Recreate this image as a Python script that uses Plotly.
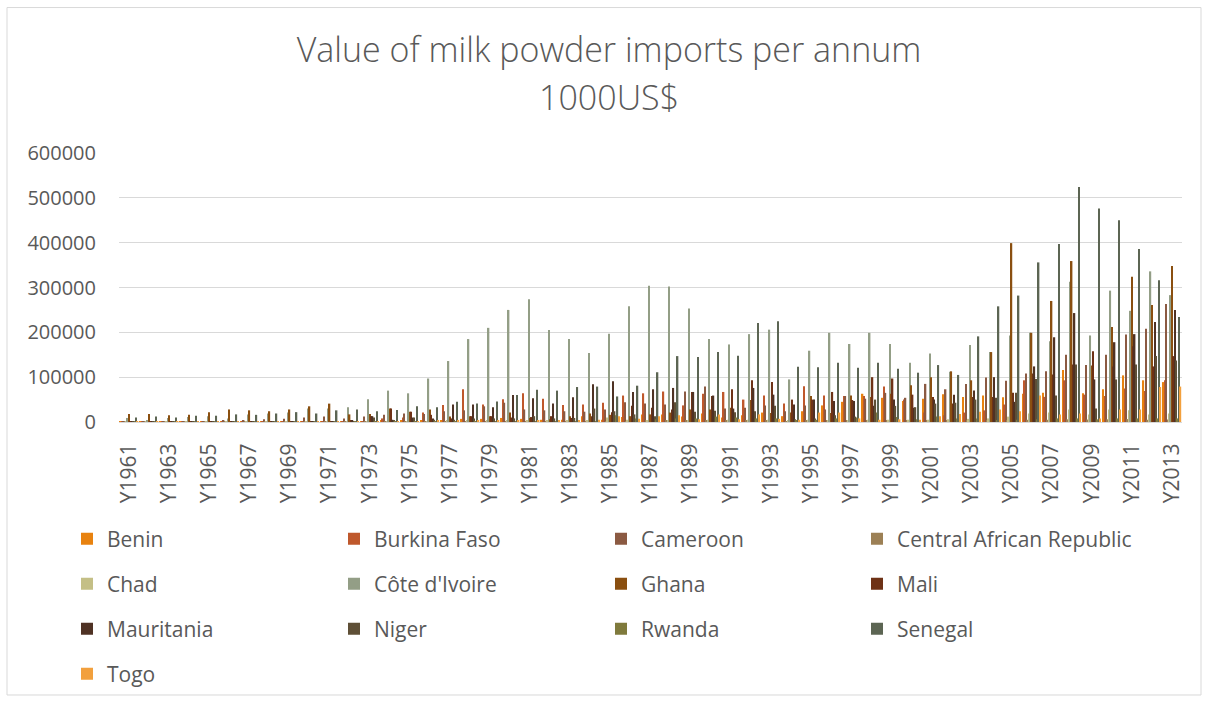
import plotly.graph_objects as go

years = [f"Y{y}" for y in range(1961, 2014)]
tick_labels = [f"Y{y}" for y in range(1961, 2014, 2)]

benin = [300,300,400,400,500,600,700,800,900,1000,
         1200,1500,2000,3000,3000,4000,3000,7000,7000,9000,
         7000,5000,5000,13000,5000,11000,17000,17000,12000,19000,
         10000,15000,21000,13000,24000,37000,45000,63000,54000,47000,
         52000,62000,56000,59000,55000,63000,65000,116000,64000,73000,
         104000,93000,89000]
burkina_faso = [200,300,300,400,500,500,600,700,800,900,
                1000,1500,2000,8000,10000,21000,38000,73000,39000,51000,
                64000,52000,38000,39000,43000,59000,64000,68000,37000,63000,
                67000,50000,59000,41000,80000,59000,58000,58000,79000,50000,
                21000,15000,21000,26000,39000,93000,56000,93000,61000,58000,
                75000,69000,93000]
cameroon = [500,800,1000,1500,2000,2500,4000,6000,7000,10000,
            12000,8000,12000,16000,19000,18000,24000,26000,35000,43000,
            28000,26000,24000,23000,28000,44000,41000,39000,68000,79000,
            30000,32000,37000,24000,37000,28000,58000,52000,65000,54000,
            85000,73000,85000,99000,92000,108000,113000,150000,127000,150000,
            195000,208000,263000]
central_african_republic = [200,200,300,300,300,400,400,500,500,600,
                            600,700,800,900,1000,1000,1200,1200,1500,1500,
                            1500,1500,1800,1800,2000,2000,2500,2500,2500,3000,
                            3000,3000,2500,2000,2500,2500,3000,3000,3500,3500,
                            3500,4000,4000,4500,4500,5000,5000,6000,5500,6000,
                            6500,5000,5500]
chad = [300,300,400,400,500,500,600,600,700,800,
        900,1000,1200,1500,1800,2000,2500,3000,3000,3500,
        3500,3000,3000,4000,10000,5000,4000,4000,4000,5000,
        5000,5000,5000,4000,5000,4000,4000,5000,5000,5000,
        5000,6000,7000,8000,12000,19000,21000,28000,17000,28000,
        26000,17000,19000]
cote_divoire = [9000,4000,9000,11000,13000,8000,17000,19000,21000,30000,
                30000,33000,51000,70000,64000,97000,136000,185000,210000,250000,
                274000,205000,185000,154000,197000,258000,304000,302000,253000,185000,
                173000,196000,206000,95000,159000,199000,174000,199000,174000,132000,
                153000,112000,172000,156000,193000,199000,180000,313000,193000,293000,
                248000,336000,283000]
ghana = [18000,18000,15000,16000,22000,28000,26000,24000,28000,35000,
         41000,17000,18000,30000,23000,28000,12000,13000,13000,21000,
         9000,6000,13000,19000,16000,13000,17000,21000,28000,28000,
         32000,49000,20000,21000,58000,20000,59000,56000,63000,82000,
         100000,113000,93000,156000,399000,199000,270000,359000,126000,212000,
         324000,261000,348000]
mali = [500,500,600,700,800,900,1000,1000,1200,1500,
        2000,3000,13000,30000,23000,16000,8000,13000,13000,10000,
        11000,13000,9000,13000,22000,36000,32000,28000,67000,58000,
        73000,93000,89000,50000,50000,67000,49000,100000,97000,61000,
        56000,41000,56000,56000,65000,108000,106000,128000,158000,124000,
        169000,124000,147000]
mauritania = [300,300,400,400,500,600,700,800,900,1000,
              2000,4000,13000,5000,10000,8000,39000,39000,33000,60000,
              53000,41000,55000,84000,91000,67000,73000,76000,67000,59000,
              30000,76000,61000,39000,50000,47000,47000,36000,50000,32000,
              50000,61000,70000,100000,45000,124000,189000,243000,95000,178000,
              196000,223000,250000]
niger = [300,300,300,400,400,500,500,600,600,700,
         800,1000,10000,3000,10000,5000,5000,8000,8000,8000,
         13000,8000,9000,30000,24000,17000,13000,44000,23000,25000,
         22000,24000,36000,6000,8000,15000,12000,50000,36000,33000,
         41000,43000,50000,54000,65000,96000,59000,128000,30000,95000,
         128000,147000,137000]
rwanda = [100,100,100,100,200,200,200,300,300,300,
          400,400,500,500,600,700,800,1000,1000,1200,
          1500,1500,2000,2000,15000,8000,6000,8000,8000,12000,
          10000,8000,8000,4000,5000,8000,10000,21000,11000,6000,
          12000,8000,8000,4000,5000,6000,8000,8000,6000,8000,
          8000,8000,8000]
senegal = [10000,12000,10000,14000,14000,17000,16000,19000,22000,19000,
           26000,28000,24000,27000,35000,33000,45000,41000,46000,60000,
           72000,70000,78000,79000,57000,81000,111000,147000,145000,156000,
           148000,221000,225000,123000,122000,132000,121000,132000,119000,110000,
           127000,105000,191000,258000,282000,356000,397000,524000,476000,450000,
           386000,316000,234000]
togo = [200,200,300,300,300,400,400,500,500,600,
        700,800,1000,1500,2000,2500,3000,3000,3000,3000,
        3000,3000,3000,5000,13000,7000,13000,15000,6000,17000,
        6000,17000,7000,5000,21000,21000,8000,5000,6000,5000,
        13000,18000,23000,28000,24000,59000,17000,19000,8000,28000,
        28000,78000,79000]

series_names = ["Benin", "Burkina Faso", "Cameroon", "Central African Republic",
                "Chad", "Côte d'Ivoire", "Ghana", "Mali",
                "Mauritania", "Niger", "Rwanda", "Senegal", "Togo"]
series_values = [benin, burkina_faso, cameroon, central_african_republic,
                 chad, cote_divoire, ghana, mali,
                 mauritania, niger, rwanda, senegal, togo]
colors = ["#E8820F", "#BF582C", "#8B5A42", "#9C8055",
          "#C4BF86", "#939E86", "#8A4F10", "#6E3216",
          "#4F3224", "#5E4F36", "#7F7A3C", "#5C6553", "#F2A03D"]
# legend rows of 4 columns: columns 1-3 share one legend per row, column 4 has its own
legend_ids = ["legend", "legend", "legend", "legend2",
              "legend3", "legend3", "legend3", "legend4",
              "legend5", "legend5", "legend5", "legend6",
              "legend7"]

FONT = "Open Sans"
GREY = "#595959"

# geometry (pixels)
W, H = 1209, 705
PL, PR, PT, PB = 119, 1182, 153, 423
pw, ph = PR - PL, PB - PT

def px_x(p):
    return (p - PL) / pw

def px_y(p):
    return (PB - p) / ph

fig = go.Figure()
for name, vals, col, lg in zip(series_names, series_values, colors, legend_ids):
    fig.add_trace(go.Bar(x=years, y=vals, name=name, marker_color=col,
                         marker_line_width=0, legend=lg))

legend_common = dict(orientation="h", xanchor="left", yanchor="middle",
                     entrywidth=222, entrywidthmode="pixels",
                     font=dict(family=FONT, size=21, color=GREY),
                     bgcolor="rgba(0,0,0,0)", borderwidth=0)
last_col = dict(orientation="h", xanchor="left", yanchor="middle",
                font=dict(family=FONT, size=21, color=GREY),
                bgcolor="rgba(0,0,0,0)", borderwidth=0)
rows_y = [539, 584, 629, 674]
lx = px_x(67)
lx4 = px_x(857)

fig.update_layout(
    width=W, height=H,
    margin=dict(l=PL, r=W - PR, t=PT, b=H - PB, pad=0),
    paper_bgcolor="white", plot_bgcolor="white",
    barmode="group", bargap=0.08, bargroupgap=0,
    font=dict(family=FONT, color=GREY),
    title=dict(text="Value of milk powder imports per annum",
               x=609 / W, xanchor="center",
               y=1 - 50 / H, yanchor="middle",
               font=dict(family=FONT, size=34, color=GREY, weight=300)),
    annotations=[dict(text="1000US$", xref="paper", yref="paper",
                      x=px_x(609), y=px_y(97), xanchor="center", yanchor="middle",
                      showarrow=False,
                      font=dict(family=FONT, size=34, color=GREY, weight=300))],
    legend=dict(x=lx, y=px_y(rows_y[0]), **legend_common),
    legend2=dict(x=lx4, y=px_y(rows_y[0]), **last_col),
    legend3=dict(x=lx, y=px_y(rows_y[1]), **legend_common),
    legend4=dict(x=lx4, y=px_y(rows_y[1]), **last_col),
    legend5=dict(x=lx, y=px_y(rows_y[2]), **legend_common),
    legend6=dict(x=lx4, y=px_y(rows_y[2]), **last_col),
    legend7=dict(x=lx, y=px_y(rows_y[3]), **legend_common),
    shapes=[dict(type="rect", xref="paper", yref="paper",
                 x0=px_x(7), x1=px_x(1201), y0=px_y(697), y1=px_y(7),
                 line=dict(color="#D9D9D9", width=1), fillcolor="rgba(0,0,0,0)",
                 layer="below")],
)

fig.update_yaxes(range=[0, 600000], dtick=100000, tick0=0,
                 showgrid=True, gridcolor="#D9D9D9", gridwidth=1,
                 zeroline=False, showline=False, ticks="",
                 tickformat="d", ticklabelstandoff=22,
                 tickfont=dict(family=FONT, size=20, color=GREY))
fig.update_xaxes(type="category", categoryorder="array", categoryarray=years,
                 tickmode="array", tickvals=tick_labels, ticktext=tick_labels,
                 tickangle=-90, ticks="", showgrid=False,
                 showline=True, linecolor="#D9D9D9", linewidth=1,
                 ticklabelstandoff=12,
                 tickfont=dict(family=FONT, size=21, color=GREY))

fig.write_html("out.html")
